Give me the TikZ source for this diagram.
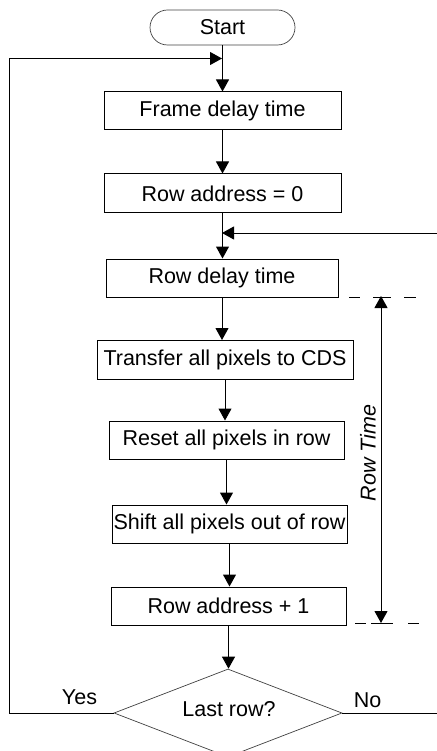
\documentclass[tikz,border=0pt]{standalone}
\usepackage{fontspec}
\setmainfont{Liberation Sans}
\usetikzlibrary{arrows.meta,shapes.geometric,calc}
\begin{document}
\begin{tikzpicture}[x=1pt,y=-1pt,
  txt/.style={font=\fontsize{21.5}{25}\selectfont},
  box/.style={txt, draw, line width=1pt, inner sep=0pt, minimum height=38pt},
  ln/.style={line width=1pt},
  arr/.style={line width=1pt, -{Triangle[length=12pt,width=13pt]}},
  darr/.style={line width=1pt, {Triangle[length=12pt,width=13pt]}-{Triangle[length=12pt,width=13pt]}},
  term/.style={txt, draw=black!75, line width=0.7pt, rounded corners=17.5pt, minimum width=145pt, minimum height=35pt, inner sep=0pt},
  decision/.style={txt, diamond, draw=black!75, line width=0.7pt, minimum width=228pt, minimum height=88pt, aspect=2.6, inner sep=0pt}
]
\useasboundingbox (0,0) rectangle (436,751);

\node[term] (start) at (222.5,27.5) {Start};
\node[box, minimum width=237pt] (frame) at (222.5,111) {Frame delay time};
\node[box, minimum width=237pt, minimum height=39pt] (row0) at (222.5,193.5) {Row address = 0};
\node[box, minimum width=232pt] (rdelay) at (222,278) {Row delay time};
\node[box, minimum width=256pt, minimum height=39pt] (transfer) at (225,360) {Transfer all pixels to CDS};
\node[box, minimum width=235pt] (reset) at (226.5,440) {Reset all pixels in row};
\node[box, minimum width=235pt] (shift) at (229.5,524) {Shift all pixels out of row};
\node[box, minimum width=235pt] (rowinc) at (228.5,606) {Row address + 1};
\node[decision] (dec) at (228,713) {};
\node[txt] (dectxt) at (229,709) {Last row?};

% main flow
\draw[arr] (start.south) -- (start.south |- frame.north);
\draw[arr] (frame.south) -- (frame.south |- row0.north);
\draw[arr] (row0.south) -- (row0.south |- rdelay.north);
\draw[arr] (rdelay.south) -- (rdelay.south |- transfer.north);
\draw[arr] (transfer.south) -- (transfer.south |- reset.north);
\draw[arr] (reset.south) -- (reset.south |- shift.north);
\draw[arr] (shift.south) -- (shift.south |- rowinc.north);
\draw[arr] (rowinc.south) -- (rowinc.south |- dec.north);

% Yes loop back to top
\coordinate (lft) at (9,0);
\coordinate (j1) at (222,58.5);
\draw[arr] (dec.west) -- (dec.west -| lft) |- (j1);
\node[txt] (yes) at (79.5,697) {Yes};

% No branch to the right, re-entering above Row delay time
\coordinate (rout) at (440,713);
\draw[ln] (dec.east) -- (rout);
\node[txt] (no) at (367.5,700) {No};
\coordinate (rin) at (440,233);
\coordinate (j2) at (222,233);
\draw[arr] (rin) -- (j2);

% Row Time dimension
\coordinate (dt1) at (349,297);
\coordinate (dt2) at (418,297);
\coordinate (db1) at (355,623);
\coordinate (db2) at (423,623);
\draw[ln, dash pattern=on 11pt off 13pt on 18pt off 13pt on 12pt off 200pt] (dt1) -- (dt2);
\draw[ln, dash pattern=on 11pt off 5pt on 22pt off 15pt on 11pt off 200pt] (db1) -- (db2);
\coordinate (rtT) at (381,296);
\coordinate (rtB) at (381,623);
\draw[darr] (rtB) -- (rtT);
\node[txt, font=\fontsize{21.5}{25}\selectfont\itshape, rotate=90] (rowtime) at (368,453) {Row Time};
\end{tikzpicture}
\end{document}
